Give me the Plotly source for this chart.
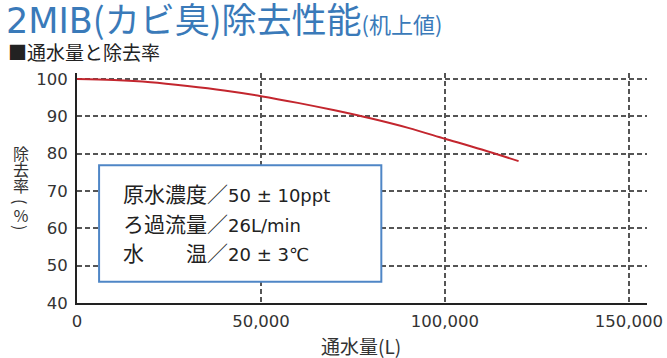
import plotly.graph_objects as go

flow_l = [0, 10000, 20000, 30000, 40000, 50000, 60000, 70000, 80000, 90000, 100000, 110000, 120000]
removal_pct = [100, 99.7, 99.1, 98.1, 96.9, 95.4, 93.6, 91.6, 89.4, 86.9, 84.0, 81.1, 78.0]
x_ticks = [0, 50000, 100000, 150000]
x_tick_labels = ["0", "50,000", "100,000", "150,000"]
y_ticks = [40, 50, 60, 70, 80, 90, 100]
cond_labels = ["原水濃度／", "ろ過流量／", "水　　温／"]
cond_values = ["50 ± 10ppt", "26L/min", "20 ± 3℃"]

CJK = "Noto Sans CJK JP"
LAT = "DejaVu Sans"
W, H = 667, 358
ml, mr, mt, mb = 77, 20, 73, 55

fig = go.Figure()
fig.add_trace(go.Scatter(x=flow_l, y=removal_pct, mode="lines",
                         line=dict(color="#c3262e", width=2, shape="spline", smoothing=1.0),
                         hoverinfo="skip", showlegend=False))

grid = dict(showgrid=True, gridcolor="#555555", gridwidth=1.5, griddash="5px,3px",
            showline=True, linecolor="#222222", linewidth=2, ticks="", zeroline=False,
            automargin=False, tickfont=dict(size=16.5, color="#333333", family=LAT))
fig.update_xaxes(range=[0, 154900], tickvals=x_ticks, ticktext=x_tick_labels,
                 ticklabelstandoff=2, **grid)
fig.update_yaxes(range=[40, 101.6], tickvals=y_ticks, ticklabelstandoff=4, **grid)

fig.add_shape(type="rect", xref="x", yref="y", x0=6000, x1=82700, y0=45.7, y1=76.9,
              line=dict(color="#4f86c6", width=2), fillcolor="white", layer="above")
for i, (lab, val) in enumerate(zip(cond_labels, cond_values)):
    fig.add_annotation(x=12000, y=69.35 - i * 7.9, xref="x", yref="y",
                       text=f"{lab}<span style='font-family:{LAT};font-size:18px'>{val}</span>",
                       showarrow=False, xanchor="left", yanchor="middle",
                       font=dict(size=21, color="#222222", family=CJK))

def px(x):
    return (x - ml) / (W - ml - mr)
def py(y):
    return 1 - (y - mt) / (H - mt - mb)

fig.add_annotation(x=px(4), y=py(17), xref="paper", yref="paper",
                   text=f"<span style='font-family:{LAT};font-size:35px'>2MIB</span>(カビ臭)除去性能<span style='font-size:22px'>(机上値)</span>",
                   showarrow=False, xanchor="left", yanchor="middle",
                   font=dict(size=35, color="#3a7ab9", family=CJK))
fig.add_annotation(x=px(6), y=py(51), xref="paper", yref="paper",
                   text="■通水量と除去率", showarrow=False, xanchor="left", yanchor="middle",
                   font=dict(size=19, color="#222222", family=CJK))
fig.add_annotation(x=px(361), y=py(345), xref="paper", yref="paper",
                   text="通水量(L)", showarrow=False, xanchor="center", yanchor="middle",
                   font=dict(size=19, color="#333333", family=CJK))

ytitle_chars = ["除", "去", "率", "(", "％", ")"]
ytitle_pos = [152.5, 168.5, 184.5, 201, 215, 227]
ytitle_rot = [0, 0, 0, 90, 0, 90]
for ch, yy, rot in zip(ytitle_chars, ytitle_pos, ytitle_rot):
    fig.add_annotation(x=px(21), y=py(yy), xref="paper", yref="paper", text=ch,
                       textangle=rot, showarrow=False, xanchor="center", yanchor="middle",
                       font=dict(size=16, color="#333333", family=CJK))

fig.update_layout(width=W, height=H, margin=dict(l=ml, r=mr, t=mt, b=mb, autoexpand=False),
                  paper_bgcolor="white", plot_bgcolor="white")
fig.write_html("out.html", config={"displayModeBar": False},
               post_script="document.body.style.margin='0';document.body.style.padding='0';")
